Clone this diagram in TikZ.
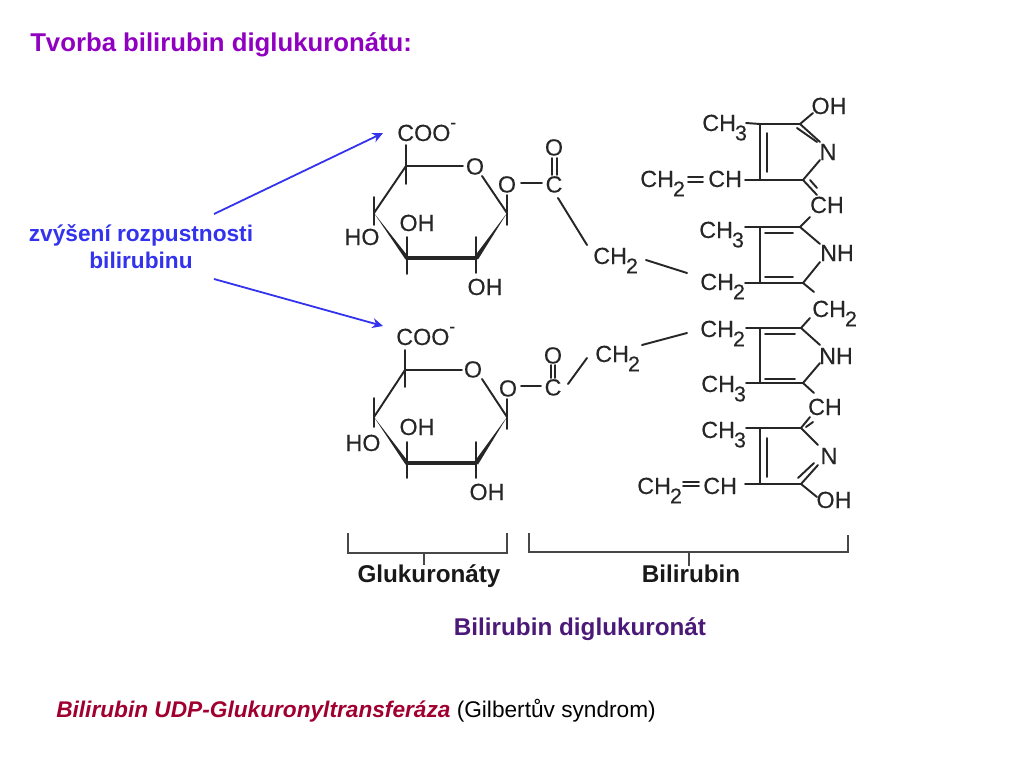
\documentclass[tikz,border=0pt]{standalone}
\usepackage{fontspec}
\setmainfont{Liberation Sans}
\newfontfamily\chemfont[FakeBold=0.25]{Liberation Sans}
\usetikzlibrary{arrows.meta}
\definecolor{titlec}{HTML}{9000C0}
\definecolor{bluec}{HTML}{3333EE}
\definecolor{redc}{HTML}{A00030}
\definecolor{purplec}{HTML}{4B1A78}
\definecolor{ink}{HTML}{262626}
\newcommand{\sbs}[1]{\kern-0.04em\raisebox{-0.4em}{\fontsize{16}{16}\selectfont #1}}
\newcommand{\sps}[1]{\raisebox{0.55em}{\fontsize{13}{13}\selectfont #1}}
\tikzset{
  bond/.style={draw=ink,line width=1.45pt,line cap=round},
  wedgefill/.style={fill=ink,draw=none},
  bracketline/.style={draw=ink!85,line width=1pt},
  chem/.style={inner sep=0pt,text=ink,font=\fontsize{17.5}{20}\selectfont\chemfont},
  chemw/.style={chem,anchor=base west},
  chemc/.style={chem,anchor=base},
  boldlabel/.style={inner sep=0pt,anchor=base,font=\fontsize{18.2}{20}\selectfont\bfseries,text=black!90},
  callout/.style={draw=bluec,line width=1.35pt,-{Stealth[length=8pt,width=7.5pt]}},
}
\begin{document}
\begin{tikzpicture}[x=0.75pt,y=-0.75pt]
\useasboundingbox (0,0) rectangle (1024,768);
% titles
\node[inner sep=0pt,anchor=base west,text=titlec,font=\fontsize{19.3}{22}\selectfont\bfseries] (title) at (30,51) {Tvorba bilirubin diglukuronátu:};
\node[inner sep=0pt,anchor=base,text=bluec,font=\fontsize{17}{20}\selectfont\bfseries] (up1) at (141,241) {zvýšení rozpustnosti};
\node[inner sep=0pt,anchor=base,text=bluec,font=\fontsize{17}{20}\selectfont\bfseries] (up2) at (141,268) {bilirubinu};
\node[inner sep=0pt,anchor=base west,font=\fontsize{17}{20}\selectfont] (enz) at (56,717) {\textcolor{redc}{\bfseries\itshape Bilirubin UDP-Glukuronyltransferáza} (Gilbertův syndrom)};
% callout arrows
\coordinate (a0) at (214,214); \coordinate (a1) at (383,133);
\coordinate (b0) at (214,279); \coordinate (b1) at (383,326);
\draw[callout] (a0) -- (a1);
\draw[callout] (b0) -- (b1);
% ---- upper sugar
\coordinate (u1) at (406,166); \coordinate (u2) at (507,213); \coordinate (u3) at (476,258);
\coordinate (u4) at (407,258); \coordinate (u5) at (374,213);
\node[chemw] (ucoo) at (397,141) {COO\sps{-}};
\node[chemc] (uo) at (475,174.5) {O};
\node[chemc] (uo2) at (507,192.5) {O};
\node[chemc] (uc) at (554,192.5) {C};
\node[chemc] (uot) at (554,155.5) {O};
\node[chemc] (uho) at (362,245) {HO};
\node[chemc] (uoh1) at (417,231) {OH};
\node[chemc] (uoh2) at (485,295) {OH};
\draw[bond] (406,145) -- (406,184);
\draw[bond] (374,197) -- (374,225);
\draw[bond] (507,195) -- (507,225);
\draw[bond] (407,237) -- (407,274);
\draw[bond] (476,237) -- (476,273);
\draw[bond] (u1) -- (463,166);
\draw[bond] (482,176) -- (u2);
\draw[bond] (u1) -- (u5);
\fill[wedgefill] (u2) -- (474.5,256.5) -- (478,259.5) -- cycle;
\fill[wedgefill] (u5) -- (405.5,259.5) -- (408.5,257) -- cycle;
\draw[draw=ink,line width=3.4pt] (u4) -- (u3);
\draw[bond] (521,183) -- (542,183);
\draw[bond] (552,158) -- (552,175);
\draw[bond] (557,158) -- (557,175);
\draw[bond] (558,198) -- (587,245);
% ---- lower sugar
\coordinate (l1) at (405,370); \coordinate (l2) at (507,417); \coordinate (l3) at (476,463);
\coordinate (l4) at (407,463); \coordinate (l5) at (374,417);
\node[chemw] (lcoo) at (396,345) {COO\sps{-}};
\node[chemc] (lo) at (473,377.5) {O};
\node[chemc] (lo2) at (508,396.5) {O};
\node[chemc] (lc) at (553,395.5) {C};
\node[chemc] (lot) at (553,363.5) {O};
\node[chemc] (lho) at (363,451) {HO};
\node[chemc] (loh1) at (417,435) {OH};
\node[chemc] (loh2) at (487,500) {OH};
\draw[bond] (405,350) -- (405,387);
\draw[bond] (374,398) -- (374,427);
\draw[bond] (507,399) -- (507,429);
\draw[bond] (407,442) -- (407,478);
\draw[bond] (476,442) -- (476,478);
\draw[bond] (l1) -- (462,370);
\draw[bond] (482,379) -- (l2);
\draw[bond] (l1) -- (l5);
\fill[wedgefill] (l2) -- (474.5,461.5) -- (478,464.5) -- cycle;
\fill[wedgefill] (l5) -- (405.5,464.5) -- (408.5,462) -- cycle;
\draw[draw=ink,line width=3.4pt] (l4) -- (l3);
\draw[bond] (521,386) -- (541,386);
\draw[bond] (551,365) -- (551,378);
\draw[bond] (555,365) -- (555,378);
\draw[bond] (568,384) -- (587,358);
% ---- linker CH2 groups
\node[chemw] (lk1) at (593,264) {CH\sbs{2}};
\node[chemw] (lk2) at (595,362) {CH\sbs{2}};
\draw[bond] (646,260) -- (687,273);
\draw[bond] (642,345) -- (687,333);
% ---- ring 1
\coordinate (r1a) at (760,124); \coordinate (r1b) at (800,124); \coordinate (r1c) at (803,180); \coordinate (r1d) at (760,180);
\node[chemw] (r1me) at (702,131) {CH\sbs{3}};
\node[chemc] (r1oh) at (829,114) {OH};
\node[chemc] (r1n) at (828,160) {N};
\node[chemc] (r1ch) at (827,213) {CH};
\node[chemw] (r1v1) at (640,187) {CH\sbs{2}};
\node[chemw] (r1v2) at (708,187) {CH};
\draw[bond] (746,123) -- (r1a) -- (r1b) -- (820,142);
\draw[bond] (r1b) -- (813,113);
\draw[bond] (797,128) -- (817,142);
\draw[bond] (820,160) -- (r1c) -- (r1d) -- (745,180);
\draw[bond] (r1c) -- (817,195);
\draw[bond] (810,180) -- (817,188);
\draw[bond] (r1a) -- (r1d);
\draw[bond] (767,133) -- (767,172);
\draw[bond] (688,177) -- (703,177);
\draw[bond] (688,182) -- (703,182);
% ---- ring 2
\coordinate (r2a) at (760,227); \coordinate (r2b) at (800,227); \coordinate (r2c) at (803,283); \coordinate (r2d) at (760,283);
\node[chemw] (r2me) at (699,238) {CH\sbs{3}};
\node[chemc] (r2nh) at (837,261) {NH};
\node[chemw] (r2et) at (700,290) {CH\sbs{2}};
\draw[bond] (745,227) -- (r2a) -- (r2b) -- (820,244);
\draw[bond] (r2b) -- (810,217);
\draw[bond] (820,262) -- (r2c) -- (r2d) -- (745,283);
\draw[bond] (r2c) -- (814,292);
\draw[bond] (r2a) -- (r2d);
\draw[bond] (765,233) -- (793,233);
\draw[bond] (765,277) -- (793,277);
% ---- ring 3
\coordinate (r3a) at (760,328); \coordinate (r3b) at (801,328); \coordinate (r3c) at (803,383); \coordinate (r3d) at (760,383);
\node[chemw] (r3top) at (812,317) {CH\sbs{2}};
\node[chemw] (r3et) at (700,337) {CH\sbs{2}};
\node[chemc] (r3nh) at (836,364) {NH};
\node[chemw] (r3me) at (701,392) {CH\sbs{3}};
\node[chemc] (r3ch) at (825,415) {CH};
\draw[bond] (746,328) -- (r3a) -- (r3b) -- (820,345);
\draw[bond] (r3b) -- (810,318);
\draw[bond] (820,363) -- (r3c) -- (r3d) -- (746,383);
\draw[bond] (r3c) -- (814,393);
\draw[bond] (r3a) -- (r3d);
\draw[bond] (765,334) -- (795,334);
\draw[bond] (765,379) -- (795,379);
% ---- ring 4
\coordinate (r4a) at (760,428); \coordinate (r4b) at (801,428); \coordinate (r4c) at (801,484); \coordinate (r4d) at (760,484);
\node[chemw] (r4me) at (701,438) {CH\sbs{3}};
\node[chemc] (r4n) at (829,464) {N};
\node[chemc] (r4oh) at (834,508) {OH};
\node[chemw] (r4v1) at (637,494) {CH\sbs{2}};
\node[chemw] (r4v2) at (703,494) {CH};
\draw[bond] (746,428) -- (r4a) -- (r4b) -- (818,445);
\draw[bond] (r4b) -- (810,417);
\draw[bond] (806,427) -- (813,422);
\draw[bond] (818,465) -- (r4c) -- (r4d) -- (745,484);
\draw[bond] (814,463) -- (798,478);
\draw[bond] (r4c) -- (817,497);
\draw[bond] (r4a) -- (r4d);
\draw[bond] (767,438) -- (767,477);
\draw[bond] (683,482) -- (699,482);
\draw[bond] (683,486) -- (699,486);
% ---- brackets
\coordinate (bl1) at (348,533); \coordinate (bl2) at (348,553); \coordinate (bl3) at (507,553); \coordinate (bl4) at (507,533);
\coordinate (br1) at (529,533); \coordinate (br2) at (529,552); \coordinate (br3) at (848,552); \coordinate (br4) at (848,535);
\draw[bracketline] (bl1) -- (bl2) -- (bl3) -- (bl4);
\draw[bracketline] (br1) -- (br2) -- (br3) -- (br4);
\draw[bracketline] (424,553) -- (424,565);
\draw[bracketline] (689,552) -- (689,566);
\node[boldlabel] (lab1) at (429,582) {Glukuronáty};
\node[boldlabel] (lab2) at (691,582) {Bilirubin};
\node[boldlabel,text=purplec] (lab3) at (580,635) {Bilirubin diglukuronát};
\end{tikzpicture}
\end{document}
